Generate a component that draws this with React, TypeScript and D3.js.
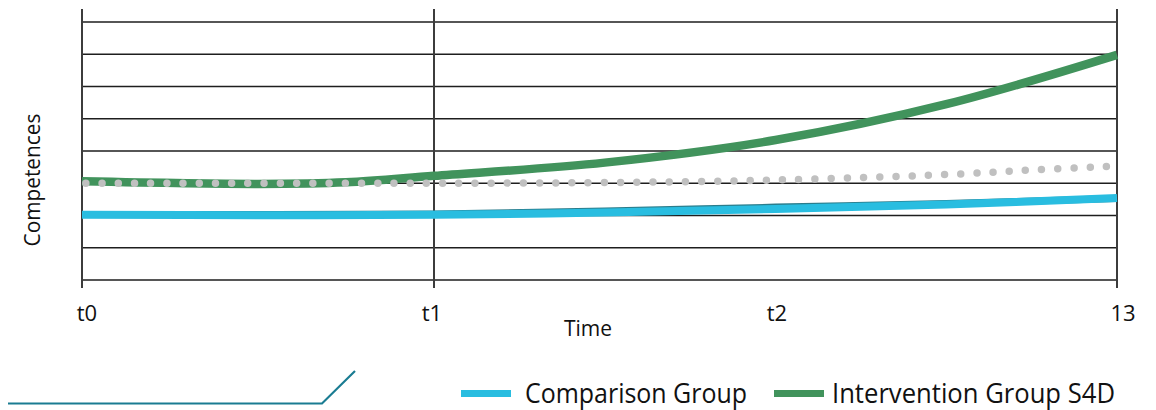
import React from "react";
import * as d3 from "d3";

const tickLabels = ["t0", "t1", "t2", "13"];
const tickTimes = [0, 1, 2, 3];
const tickNudge = [5, -2, 1.5, 6];
const gridValues = [0, 1, 2, 3, 4, 5, 6, 7, 8];
const verticalLineTimes = [0, 1, 3];

const greenTimes = [0, 0.5, 0.75, 1, 1.5, 2, 2.5, 3];
const greenValues = [3.06, 2.98, 3.03, 3.23, 3.64, 4.34, 5.45, 6.98];

const blueTimes = [0, 0.5, 1, 1.5, 2, 2.5, 3];
const blueValues = [2.02, 2.01, 2.02, 2.09, 2.2, 2.34, 2.54];

const shadowTimes = [0, 1, 1.5, 2, 2.5, 3];
const shadowValues = [2.03, 2.05, 2.14, 2.26, 2.37, 2.53];

const grayTimes = [0, 1, 1.5, 2, 2.5, 2.75, 3];
const grayValues = [3.0, 3.0, 3.02, 3.1, 3.27, 3.41, 3.53];

const legendItems = [
  { label: "Comparison Group", color: "#29bde0" },
  { label: "Intervention Group S4D", color: "#41935c" },
];

export default function App() {
  const W = 1156;
  const H = 410;
  const x = d3.scaleLinear().domain([0, 1, 3]).range([82, 434, 1117]);
  const y = d3.scaleLinear().domain([0, 8]).range([280, 22]);

  const line = (ts: number[], vs: number[]) =>
    d3
      .line<number>()
      .x((_, i) => x(ts[i]))
      .y((v) => y(v))
      .curve(d3.curveCatmullRom.alpha(0.5))(vs) as string;

  const font = "'Open Sans', 'Noto Sans', sans-serif";

  const legendX = [461, 774];
  const textX = [525, 832];
  const textLen = [222, 283];

  return (
    <svg
      width={W}
      height={H}
      style={{ position: "absolute", left: 0, top: 0, background: "#fff" }}
    >
      {gridValues.map((g) => (
        <line
          key={"g" + g}
          x1={x(0)}
          x2={x(3)}
          y1={y(g)}
          y2={y(g)}
          stroke="#1e1e1e"
          strokeWidth={1.6}
        />
      ))}
      {verticalLineTimes.map((t) => (
        <line
          key={"v" + t}
          x1={x(t)}
          x2={x(t)}
          y1={9}
          y2={288}
          stroke="#3c3c3c"
          strokeWidth={2}
        />
      ))}
      <path
        d={line(shadowTimes, shadowValues)}
        fill="none"
        stroke="#2b7d8c"
        strokeWidth={7}
      />
      <path
        d={line(blueTimes, blueValues)}
        fill="none"
        stroke="#29bde0"
        strokeWidth={8}
      />
      <path
        d={line(greenTimes, greenValues)}
        fill="none"
        stroke="#41935c"
        strokeWidth={8.5}
      />
      <path
        d={line(grayTimes, grayValues)}
        fill="none"
        stroke="#c0c0c0"
        strokeWidth={7.5}
        strokeLinecap="round"
        strokeDasharray="0 16.2"
        strokeDashoffset={-4}
      />
      {tickTimes.map((t, i) => (
        <text
          key={"t" + i}
          x={x(t) + tickNudge[i]}
          y={321}
          textAnchor="middle"
          fontFamily={font}
          fontSize={22}
          fill="#111"
        >
          {tickLabels[i]}
        </text>
      ))}
      <text
        x={588}
        y={336}
        textAnchor="middle"
        fontFamily={font}
        fontSize={21}
        fill="#111"
      >
        Time
      </text>
      <text
        transform={`translate(40,180) rotate(-90)`}
        textAnchor="middle"
        fontFamily={font}
        fontSize={21}
        fill="#111"
        textLength={133}
        lengthAdjust="spacingAndGlyphs"
      >
        Competences
      </text>
      <path
        d="M8,403.5 L322,403.5 L355,371"
        fill="none"
        stroke="#1a7c92"
        strokeWidth={2.2}
      />
      {legendItems.map((item, i) => (
        <g key={item.label}>
          <rect
            x={legendX[i]}
            y={390}
            width={50}
            height={7}
            fill={item.color}
          />
          <text
            x={textX[i]}
            y={403}
            fontFamily={font}
            fontSize={26.5}
            fill="#111"
            textLength={textLen[i]}
            lengthAdjust="spacingAndGlyphs"
          >
            {item.label}
          </text>
        </g>
      ))}
    </svg>
  );
}
